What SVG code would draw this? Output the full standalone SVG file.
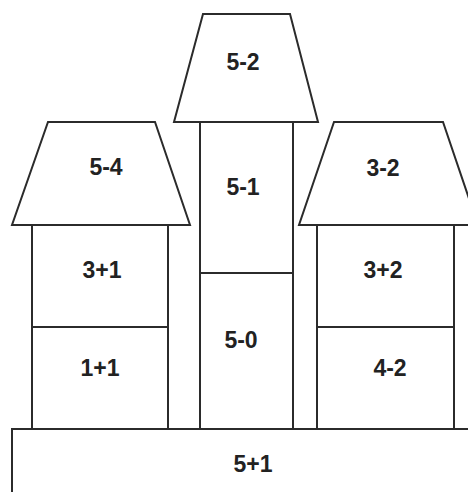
<svg xmlns="http://www.w3.org/2000/svg" width="468" height="492" viewBox="0 0 468 492">
<style>
.s{fill:#fff;stroke:#2b2b2b;stroke-width:2;stroke-linejoin:miter}
.t{font-family:"Liberation Sans",Arial,sans-serif;font-weight:bold;font-size:23px;fill:#222;text-anchor:middle;dominant-baseline:central}
</style>
<rect width="468" height="492" fill="#fff"/>
<g id="base">
<rect class="s" x="12" y="429" width="470" height="80"/>
<text class="t" x="253" y="464">5+1</text>
</g>
<g id="left-bottom">
<rect class="s" x="32" y="327" width="136" height="102"/>
<text class="t" x="100" y="368">1+1</text>
</g>
<g id="left-top">
<rect class="s" x="32" y="225" width="136" height="102"/>
<text class="t" x="102" y="270">3+1</text>
</g>
<g id="left-roof">
<polygon class="s" points="48,122 155,122 190,225 12,225"/>
<text class="t" x="106" y="167">5-4</text>
</g>
<g id="mid-bottom">
<rect class="s" x="200" y="273" width="93" height="156"/>
<text class="t" x="241" y="340">5-0</text>
</g>
<g id="mid-top">
<rect class="s" x="200" y="122" width="93" height="151"/>
<text class="t" x="243" y="187">5-1</text>
</g>
<g id="mid-roof">
<polygon class="s" points="203,14 290,14 318,122 174,122"/>
<text class="t" x="243" y="62">5-2</text>
</g>
<g id="right-bottom">
<rect class="s" x="317" y="327" width="137" height="102"/>
<text class="t" x="390" y="368">4-2</text>
</g>
<g id="right-top">
<rect class="s" x="317" y="225" width="137" height="102"/>
<text class="t" x="383" y="270">3+2</text>
</g>
<g id="right-roof">
<polygon class="s" points="334,122 443,122 478,225 299,225"/>
<text class="t" x="383" y="168">3-2</text>
</g>
<g id="connectors"></g>
</svg>
